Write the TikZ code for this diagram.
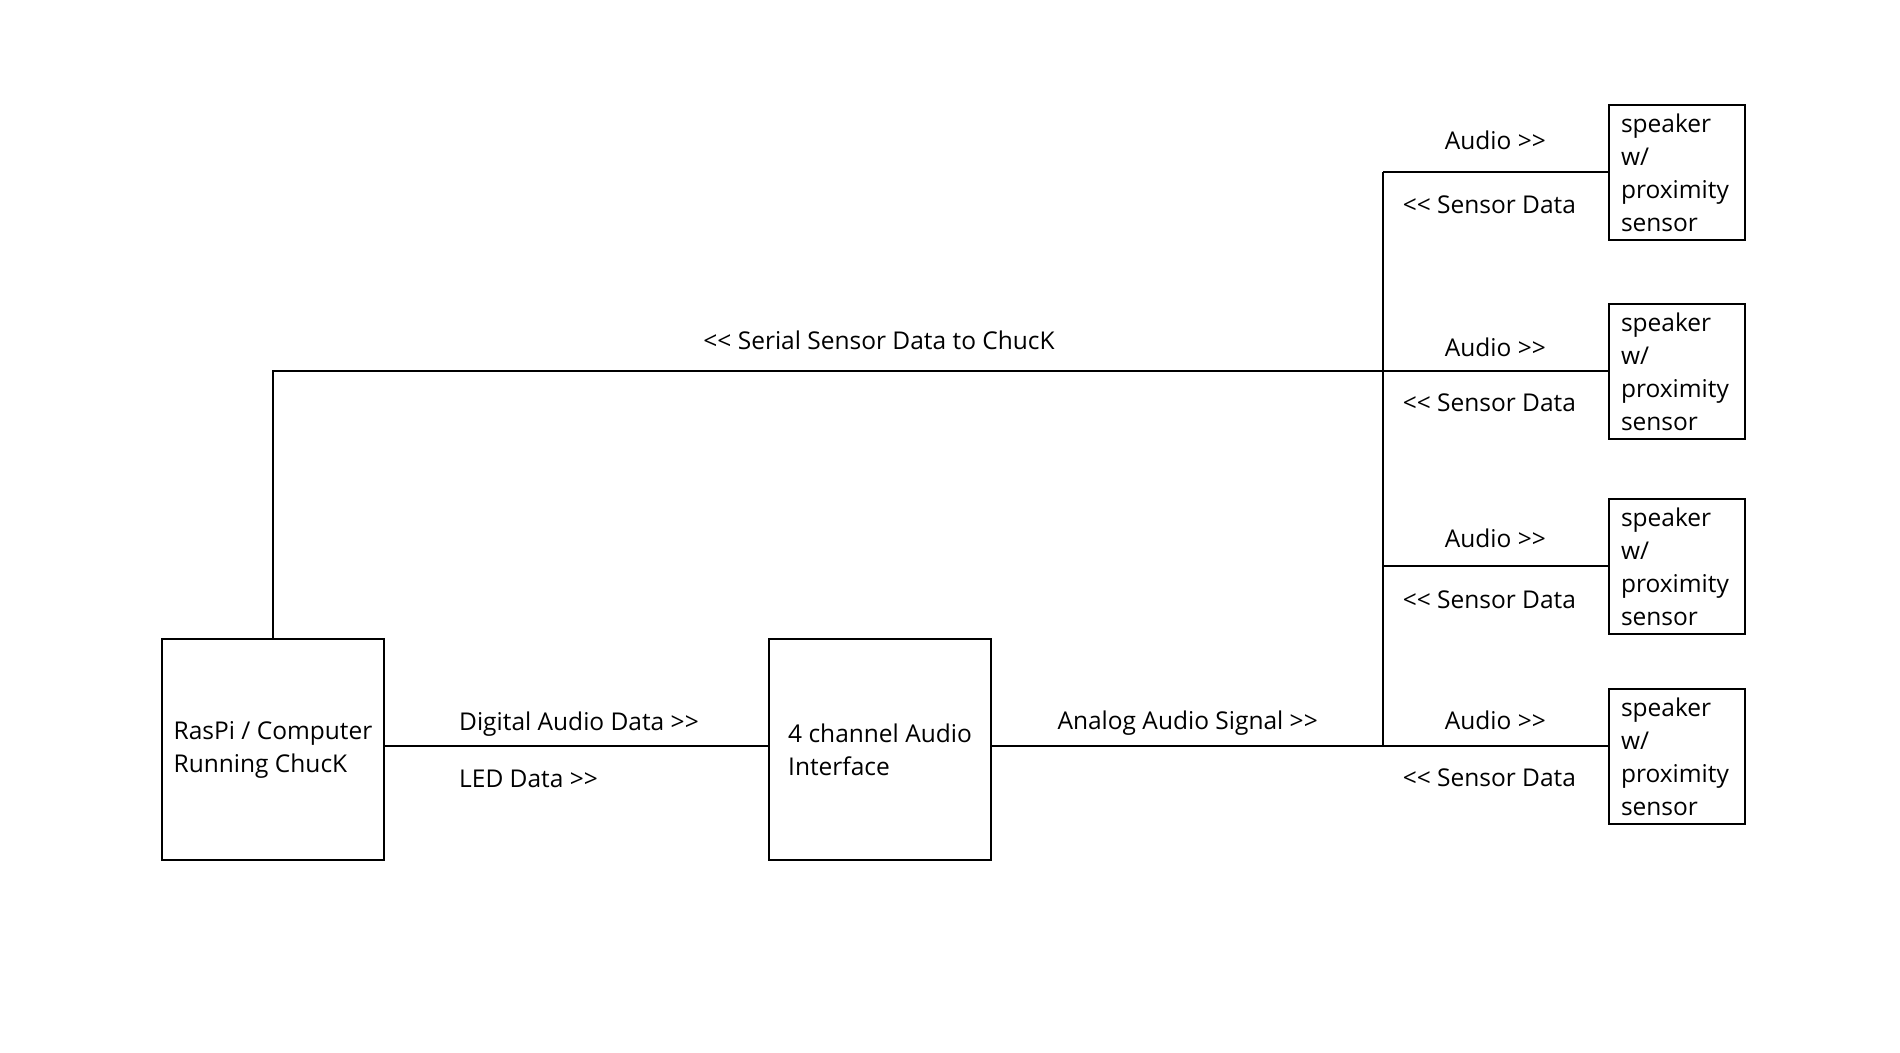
\documentclass[tikz,border=0pt]{standalone}
\usepackage{fontspec}
\setmainfont{Open Sans}
\usetikzlibrary{positioning, calc}

\begin{document}
\begin{tikzpicture}[
  x=1pt, y=-1pt,
  every node/.style={font=\fontsize{24.5}{33}\selectfont},
  bigbox/.style={draw, line width=2.5pt, minimum width=222pt,
              minimum height=221pt, align=left},
  spkbox/.style={draw, line width=2.5pt, text width=112pt, inner xsep=12pt,
              minimum height=135pt, align=left},
  uplabel/.style={inner sep=0pt, text height=17pt, text depth=5pt},
  wire/.style={line width=2.5pt}
]
  \useasboundingbox (0,0) rectangle (1900,1052);

  % Left side: computer and audio interface
  \node[bigbox] (raspi) at (273,749.5) {RasPi / Computer\\Running ChucK};
  \node[bigbox] (iface) at (880,749.5) {4 channel Audio\\Interface};

  % Right side: speakers
  \node[spkbox] (spk1) at (1677,172.5) {speaker\\w/\\proximity\\sensor};
  \node[spkbox] (spk2) at (1677,371.5) {speaker\\w/\\proximity\\sensor};
  \node[spkbox] (spk3) at (1677,566.5) {speaker\\w/\\proximity\\sensor};
  \node[spkbox] (spk4) at (1677,756.5) {speaker\\w/\\proximity\\sensor};

  % Bus junctions
  \coordinate (j1) at (1383,172);
  \coordinate (j2) at (1383,371);
  \coordinate (j3) at (1383,566);
  \coordinate (j4) at (1383,746);

  % Wires
  \draw[wire] (j1) -- (j4);
  \draw[wire] (raspi.east |- j4) --
    node[uplabel, pos=0.19, anchor=south west, yshift=9pt] {Digital Audio Data >{}>}
    node[uplabel, pos=0.19, anchor=north west, yshift=-23.5pt] {LED Data >{}>}
    (iface.west |- j4);
  \draw[wire] (iface.east |- j4) --
    node[uplabel, above=10.5pt] {Analog Audio Signal >{}>} (j4);
  \draw[wire] (raspi.north) |-
    node[uplabel, pos=0.773, above=15.5pt] {<{}< Serial Sensor Data to ChucK} (j2);

  \draw[wire] (j1) -- node[uplabel, above=16.5pt] {Audio >{}>}
    node[uplabel, below=23.5pt, xshift=-6pt] {<{}< Sensor Data} (spk1.west |- j1);
  \draw[wire] (j2) -- node[uplabel, above=8.5pt] {Audio >{}>}
    node[uplabel, below=22.5pt, xshift=-6pt] {<{}< Sensor Data} (spk2.west |- j2);
  \draw[wire] (j3) -- node[uplabel, above=12.5pt] {Audio >{}>}
    node[uplabel, below=24.5pt, xshift=-6pt] {<{}< Sensor Data} (spk3.west |- j3);
  \draw[wire] (j4) -- node[uplabel, above=10.5pt] {Audio >{}>}
    node[uplabel, below=22.5pt, xshift=-6pt] {<{}< Sensor Data} (spk4.west |- j4);
\end{tikzpicture}
\end{document}
